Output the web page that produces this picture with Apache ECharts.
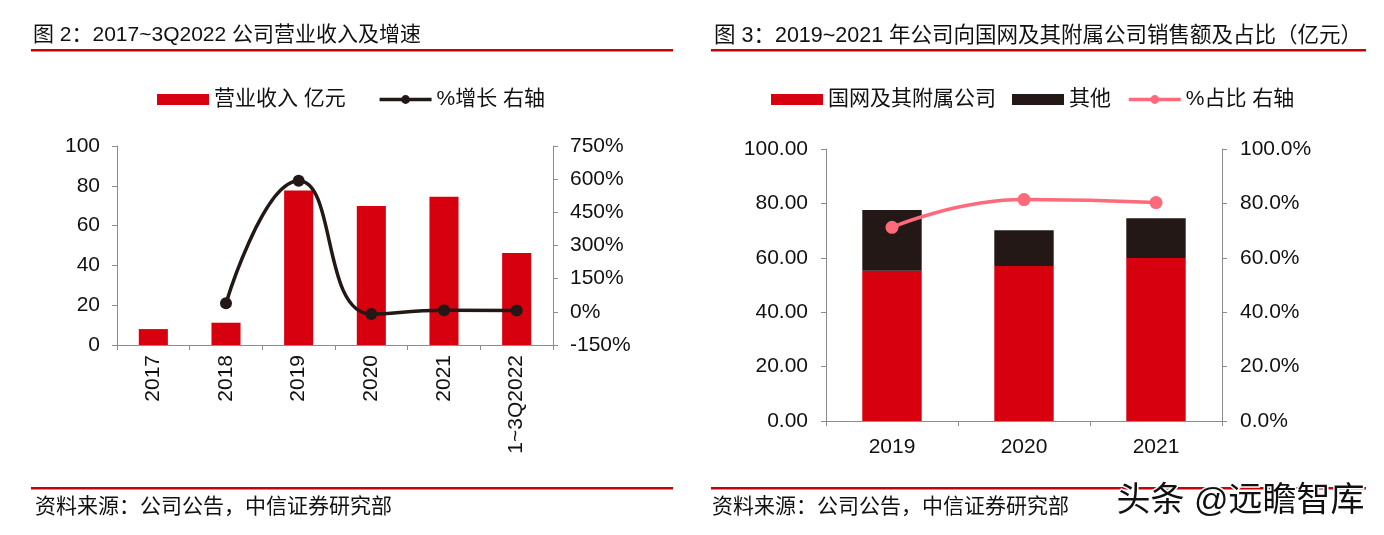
<!DOCTYPE html>
<html>
<head>
<meta charset="utf-8">
<script src="https://cdn.jsdelivr.net/npm/echarts@6/dist/echarts.min.js"></script>
<style>
html,body{margin:0;padding:0;background:#fff;}
#chart{width:1384px;height:535px;}
</style>
</head>
<body>
<div id="chart"></div>
<script>
// ---- Data: chart 1 (图2) ----
const cats1 = ['2017', '2018', '2019', '2020', '2021', '1~3Q2022'];
const revenue = [8.0, 11.2, 77.6, 69.8, 74.5, 46.2];          // 亿元
const growth = [null, 39, 593, -10, 6.7, 6.5];                // %
const leftTicks1 = { min: 0, max: 100, interval: 20 };
const rightTicks1 = { min: -150, max: 750, interval: 150 };

// ---- Data: chart 2 (图3) ----
const cats2 = ['2019', '2020', '2021'];
const stateGrid = [55.2, 57.0, 59.9];                         // 亿元
const others = [22.4, 13.1, 14.6];                            // 亿元
const share = [71.2, 81.4, 80.3];                             // %
const leftTicks2 = { min: 0, max: 100, interval: 20 };
const rightTicks2 = { min: 0, max: 100, interval: 20 };

const FONT = '"Liberation Sans", "Noto Sans CJK SC", sans-serif';
const RED = '#D7000F';
const DARK = '#231815';
const PINK = '#FF6A7A';
const AXIS = '#8c8c8c';
const TXT = '#111111';
const RULE = '#C8000A';

const axisCommon = {
  axisLine: { show: true, lineStyle: { color: AXIS, width: 1 } },
  axisTick: { show: true, length: 5, lineStyle: { color: AXIS } },
  splitLine: { show: false }
};
const lbl = (extra) => Object.assign({ color: TXT, fontSize: 21, fontFamily: FONT }, extra);

const chart = echarts.init(document.getElementById('chart'), null, { renderer: 'canvas' });

const option = {
  backgroundColor: '#ffffff',
  animation: false,
  title: [
    { text: '图 2：2017~3Q2022 公司营业收入及增速', left: 33, top: 25,
      textStyle: { fontSize: 21, fontWeight: 'normal', color: TXT, fontFamily: FONT }, padding: 0 },
    { text: '图 3：2019~2021 年公司向国网及其附属公司销售额及占比（亿元）', left: 714, top: 25,
      textStyle: { fontSize: 21.5, fontWeight: 'normal', color: TXT, fontFamily: FONT }, padding: 0 }
  ],
  legend: [
    { data: [{ name: '营业收入 亿元', icon: 'rect' }, { name: '%增长 右轴' }],
      left: 157, top: 89, padding: 0,
      itemWidth: 52, itemHeight: 11, itemGap: 32, itemTextGap: 6,
      lineStyle: { width: 3.5 },
      textStyle: { fontSize: 21, color: TXT, fontFamily: FONT } },
    { data: [{ name: '国网及其附属公司', icon: 'rect' }, { name: '其他', icon: 'rect' }, { name: '%占比 右轴' }],
      left: 771, top: 89, padding: 0,
      itemWidth: 52, itemHeight: 11, itemGap: 16, itemTextGap: 6,
      lineStyle: { width: 3.5 },
      textStyle: { fontSize: 21, color: TXT, fontFamily: FONT } }
  ],
  grid: [
    { left: 117, right: 1384 - 553, top: 146, bottom: 535 - 345, containLabel: false },
    { left: 826, right: 1384 - 1222, top: 149, bottom: 535 - 421, containLabel: false }
  ],
  xAxis: [
    Object.assign({}, axisCommon, {
      type: 'category', gridIndex: 0, data: cats1, boundaryGap: true,
      axisLabel: lbl({ rotate: 90, margin: 10, interval: 0 })
    }),
    Object.assign({}, axisCommon, {
      type: 'category', gridIndex: 1, data: cats2, boundaryGap: true,
      axisLabel: lbl({ margin: 16, interval: 0 })
    })
  ],
  yAxis: [
    Object.assign({}, axisCommon, {
      type: 'value', gridIndex: 0, position: 'left',
      min: leftTicks1.min, max: leftTicks1.max, interval: leftTicks1.interval,
      axisLabel: lbl({ margin: 17 })
    }),
    Object.assign({}, axisCommon, {
      type: 'value', gridIndex: 0, position: 'right',
      min: rightTicks1.min, max: rightTicks1.max, interval: rightTicks1.interval,
      axisLabel: lbl({ margin: 17, formatter: '{value}%' })
    }),
    Object.assign({}, axisCommon, {
      type: 'value', gridIndex: 1, position: 'left',
      min: leftTicks2.min, max: leftTicks2.max, interval: leftTicks2.interval,
      axisLabel: lbl({ margin: 18, formatter: v => v.toFixed(2) })
    }),
    Object.assign({}, axisCommon, {
      type: 'value', gridIndex: 1, position: 'right',
      min: rightTicks2.min, max: rightTicks2.max, interval: rightTicks2.interval,
      axisLabel: lbl({ margin: 18, formatter: v => v.toFixed(1) + '%' })
    })
  ],
  series: [
    { name: '营业收入 亿元', type: 'bar', xAxisIndex: 0, yAxisIndex: 0, data: revenue,
      barWidth: '40%', itemStyle: { color: RED } },
    { name: '%增长 右轴', type: 'line', xAxisIndex: 0, yAxisIndex: 1, data: growth,
      smooth: 0.5, connectNulls: false, symbol: 'circle', symbolSize: 12,
      lineStyle: { color: DARK, width: 3.5 }, itemStyle: { color: DARK } },
    { name: '国网及其附属公司', type: 'bar', xAxisIndex: 1, yAxisIndex: 2, data: stateGrid,
      stack: 'sales', barWidth: '45%', itemStyle: { color: RED } },
    { name: '其他', type: 'bar', xAxisIndex: 1, yAxisIndex: 2, data: others,
      stack: 'sales', barWidth: '45%', itemStyle: { color: DARK } },
    { name: '%占比 右轴', type: 'line', xAxisIndex: 1, yAxisIndex: 3, data: share,
      smooth: 0.5, symbol: 'circle', symbolSize: 13,
      lineStyle: { color: PINK, width: 3.5 }, itemStyle: { color: PINK } }
  ],
  graphic: [
    { type: 'rect', shape: { x: 31, y: 49, width: 642, height: 2.5 }, style: { fill: RULE } },
    { type: 'rect', shape: { x: 711, y: 49, width: 655, height: 2.5 }, style: { fill: RULE } },
    { type: 'rect', shape: { x: 31, y: 487, width: 642, height: 2.5 }, style: { fill: RULE } },
    { type: 'rect', shape: { x: 711, y: 487, width: 655, height: 2.5 }, style: { fill: RULE } },
    { type: 'text', left: 35, top: 497, style: { text: '资料来源：公司公告，中信证券研究部',
      fontSize: 21, fill: TXT, fontFamily: FONT } },
    { type: 'text', left: 712, top: 497, style: { text: '资料来源：公司公告，中信证券研究部',
      fontSize: 21, fill: TXT, fontFamily: FONT } },
    { type: 'text', left: 1115, top: 483, z: 100, style: { text: '头条 @远瞻智库',
      fontSize: 34, fill: '#111111', stroke: '#ffffff', lineWidth: 3, fontFamily: FONT,
      shadowColor: 'rgba(0,0,0,0.35)', shadowBlur: 2, shadowOffsetX: 1, shadowOffsetY: 1 } }
  ]
};

chart.setOption(option);
</script>
</body>
</html>
